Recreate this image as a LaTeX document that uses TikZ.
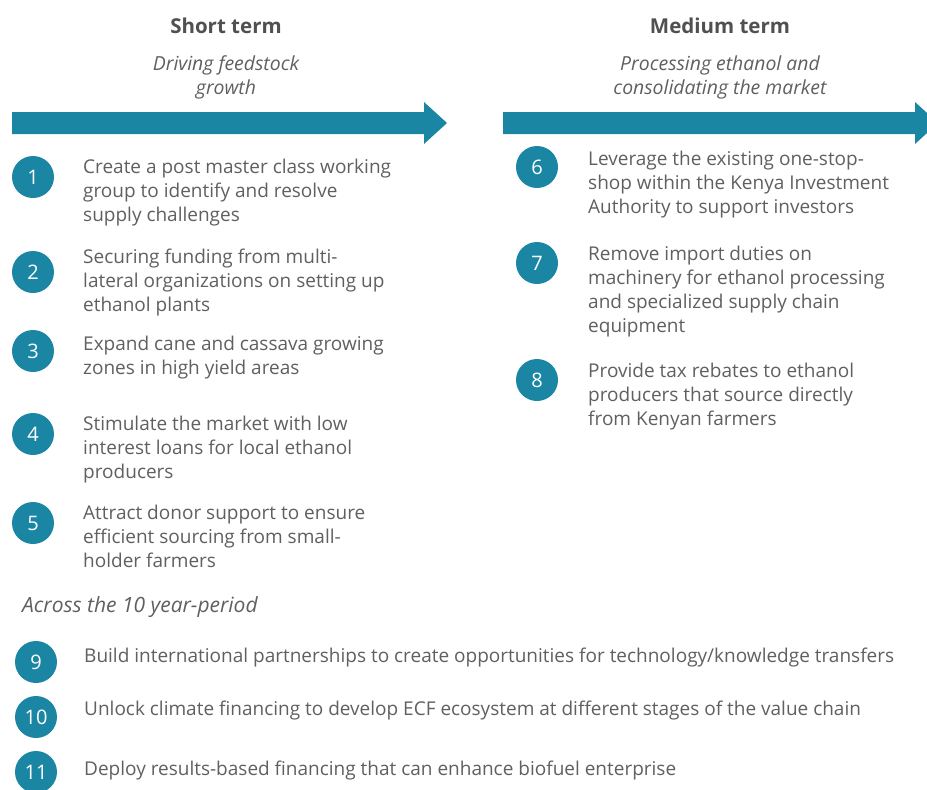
\documentclass[tikz,border=0pt]{standalone}
\usepackage{fontspec}
\setmainfont{Open Sans}
\definecolor{teal1}{HTML}{1B86A3}
\definecolor{txt}{HTML}{606060}
\definecolor{ttl}{HTML}{505050}
\begin{document}
\begin{tikzpicture}[x=1pt,y=-1pt,
  numcirc/.style={circle, fill=teal1, minimum size=42pt, inner sep=0pt, text=white, font=\fontsize{20}{20}\selectfont},
  item/.style={anchor=base west, align=left, inner sep=0pt, text=txt, font=\fontsize{19}{24}\selectfont},
  title/.style={anchor=base, inner sep=0pt, text=ttl, font=\bfseries\fontsize{20.5}{24}\selectfont},
  subtitle/.style={anchor=base, align=center, inner sep=0pt, text=txt, font=\itshape\fontsize{19.4}{24}\selectfont}]
\useasboundingbox (0,0) rectangle (927,790);
\fill[white] (0,0) rectangle (927,790);
% arrows
\begin{scope}
\clip (0,0) rectangle (927,790);
\fill[teal1] (12,112) -- (424,112) -- (424,102) -- (447,123) -- (424,144) -- (424,134) -- (12,134) -- cycle;
\fill[teal1] (503,112) -- (915,112) -- (915,102) -- (938,123) -- (915,144) -- (915,134) -- (503,134) -- cycle;
\end{scope}
% titles
\node[title] (st) at (226,33) {Short term};
\node[title] (mt) at (720,33) {Medium term};
\node[subtitle] (sst) at (226,94) {Driving feedstock\\growth};
\node[subtitle] (smt) at (720,94) {Processing ethanol and\\consolidating the market};
% left column
\node[numcirc] (c1) at (33,177) {1};
\node[item] (t1) at (83,221) {Create a post master class working\\group to identify and resolve\\supply challenges};
\node[numcirc] (c2) at (33,272) {2};
\node[item] (t2) at (83,311) {Securing funding from multi-\\lateral organizations on setting up\\ethanol plants};
\node[numcirc] (c3) at (33,351) {3};
\node[item] (t3) at (83,374) {Expand cane and cassava growing\\zones in high yield areas};
\node[numcirc] (c4) at (33,434) {4};
\node[item] (t4) at (83,478) {Stimulate the market with low\\interest loans for local ethanol\\producers};
\node[numcirc] (c5) at (33,523) {5};
\node[item] (t5) at (83,567) {Attract donor support to ensure\\efficient sourcing from small-\\holder farmers};
% right column
\node[numcirc] (c6) at (537,167) {6};
\node[item] (t6) at (588,213) {Leverage the existing one-stop-\\shop within the Kenya Investment\\Authority to support investors};
\node[numcirc] (c7) at (537,263) {7};
\node[item] (t7) at (588,332) {Remove import duties on\\machinery for ethanol processing\\and specialized supply chain\\equipment};
\node[numcirc] (c8) at (537,380) {8};
\node[item] (t8) at (588,425) {Provide tax rebates to ethanol\\producers that source directly\\from Kenyan farmers};
% across
\node[item, font=\itshape\fontsize{21}{24}\selectfont] (across) at (22,612) {Across the 10 year-period};
\node[numcirc] (c9) at (36,662) {9};
\node[item] (t9) at (84,662) {Build international partnerships to create opportunities for technology/knowledge transfers};
\node[numcirc] (c10) at (36,717) {10};
\node[item] (t10) at (84,715) {Unlock climate financing to develop ECF ecosystem at different stages of the value chain};
\node[numcirc] (c11) at (36,772) {11};
\node[item] (t11) at (84,775) {Deploy results-based financing that can enhance biofuel enterprise};
\end{tikzpicture}
\end{document}
